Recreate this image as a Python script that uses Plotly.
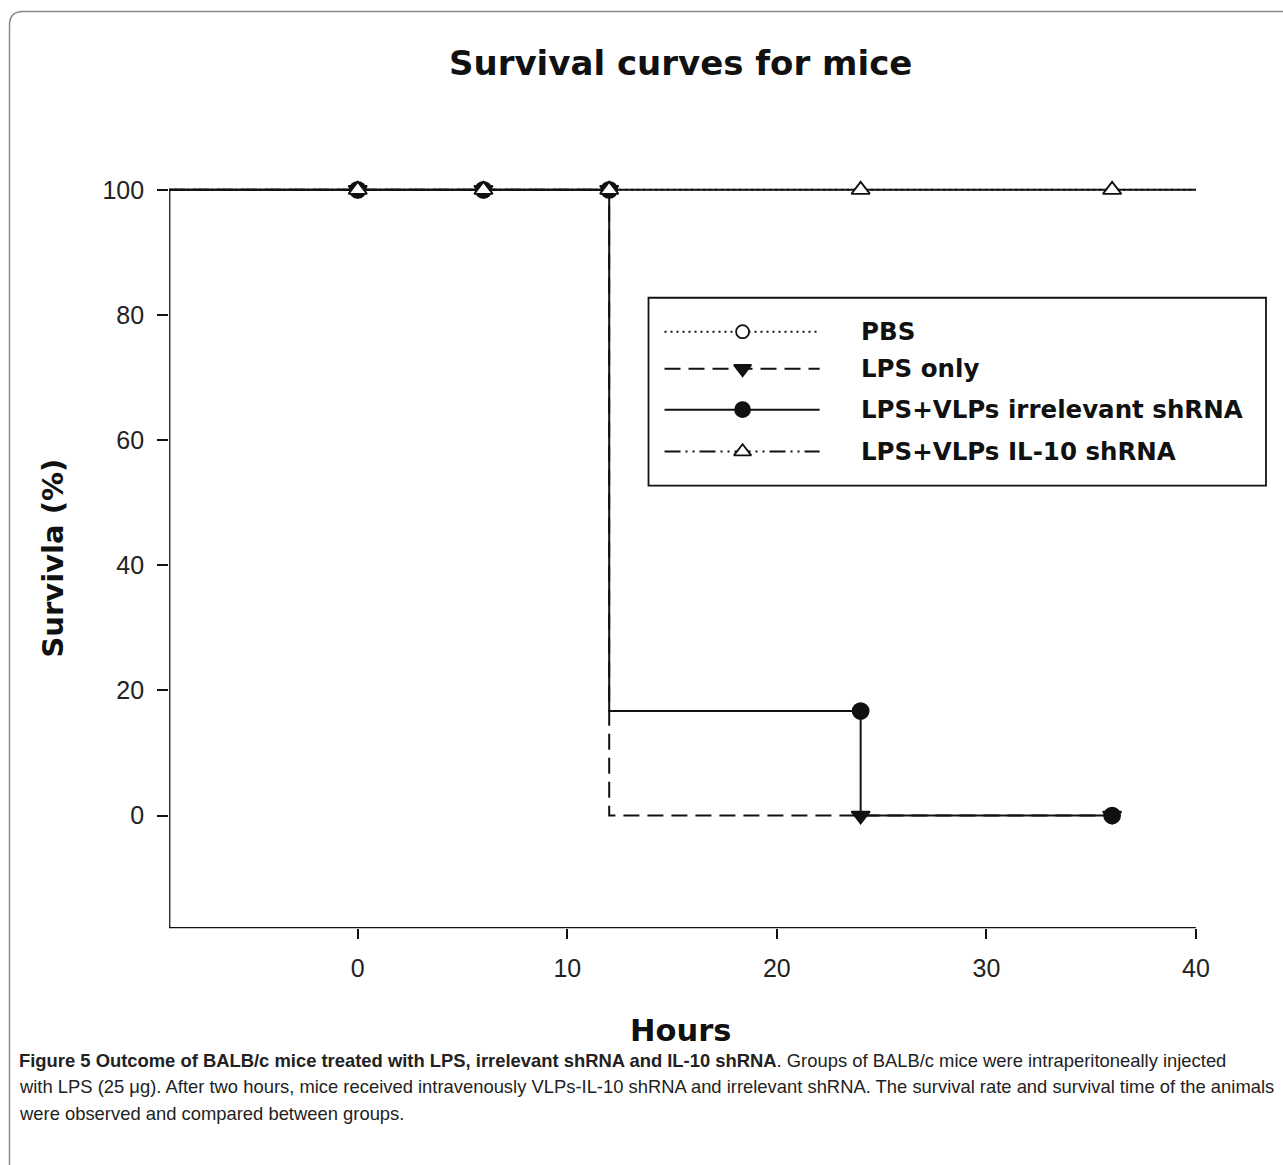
import plotly.graph_objects as go

# ---------------- data ----------------
hours = [0, 6, 12, 24, 36]
pbs_hours = [0, 6, 12]
pbs_survival = [100, 100, 100]
lps_only = [100, 100, 100, 0, 0]
lps_irrelevant = [100, 100, 100, 16.7, 0]
lps_il10 = [100, 100, 100, 100, 100]

group_names = ["PBS", "LPS only", "LPS+VLPs irrelevant shRNA", "LPS+VLPs IL-10 shRNA"]
x_ticks = [0, 10, 20, 30, 40]
y_ticks = [0, 20, 40, 60, 80, 100]
x_range = [-9, 40]
y_min = -18

title_text = "Survival curves for mice"
x_title = "Hours"
y_title = "Survivla (%)"
caption_lines = [
    "<b>Figure 5 Outcome of BALB/c mice treated with LPS, irrelevant shRNA and IL-10 shRNA</b>. Groups of BALB/c mice were intraperitoneally injected",
    "with LPS (25 μg). After two hours, mice received intravenously VLPs-IL-10 shRNA and irrelevant shRNA. The survival rate and survival time of the animals",
    "were observed and compared between groups.",
]

# ---------------- layout constants ----------------
REF_W, H = 1283, 1165   # reference picture size (layout coordinates below are in these pixels)
CANVAS_W = 1298         # drawing width (viewer squeezes horizontally to 1283)
BLACK = "#111111"
DASH_LPS = "16px,8px"
DASH_PBS = "2px,4px"
DASH_IL10 = "16px,5px,2px,5px,2px,5px"


def step_line(xs, ys, extend_right):
    lx = [x_range[0]] + list(xs)
    ly = [ys[0]] + list(ys)
    if extend_right:
        lx.append(x_range[1])
        ly.append(ys[-1])
    return lx, ly


fig = go.Figure()

series = [
    # name, x, y, plotted line dash, symbol, fill, size
    ("PBS", pbs_hours, pbs_survival, DASH_PBS, "circle", "white", 12),
    ("LPS+VLPs irrelevant shRNA", hours, lps_irrelevant, "solid", "circle", BLACK, 16),
    ("LPS only", hours, lps_only, DASH_LPS, "triangle-down", BLACK, 16),
    ("LPS+VLPs IL-10 shRNA", hours, lps_il10, "solid", "triangle-up", "white", 16),
]

for name, xs, ys, dash, sym, fill, size in series:
    lx, ly = step_line(xs, ys, ys[-1] > 0)
    fig.add_trace(go.Scatter(
        x=lx, y=ly, mode="lines", line=dict(color=BLACK, width=2, dash=dash, shape="vh"),
        showlegend=False, hoverinfo="skip", xaxis="x", yaxis="y"))
for name, xs, ys, dash, sym, fill, size in series:
    fig.add_trace(go.Scatter(
        x=xs, y=ys, mode="markers", name=name,
        marker=dict(symbol=sym, size=size, color=fill, line=dict(color=BLACK, width=1.8)),
        showlegend=False, cliponaxis=False, xaxis="x", yaxis="y"))

# ---------------- manual legend (pixel space on overlay axes) ----------------
leg_box = (648, 297, 1265, 485)
leg_rows = [331, 368, 409, 451]
leg_style = {
    "PBS": (DASH_PBS, "circle", "white", 13),
    "LPS only": (DASH_LPS, "triangle-down", BLACK, 15),
    "LPS+VLPs irrelevant shRNA": ("solid", "circle", BLACK, 15),
    "LPS+VLPs IL-10 shRNA": (DASH_IL10, "triangle-up", "white", 15),
}
shapes = []
annotations = []
shapes.append(dict(type="rect", xref="x2", yref="y2", x0=leg_box[0], x1=leg_box[2],
                   y0=leg_box[1], y1=leg_box[3], line=dict(color=BLACK, width=1.8),
                   fillcolor="rgba(0,0,0,0)", layer="above"))
for name, yy in zip(group_names, leg_rows):
    dash, sym, fill, size = leg_style[name]
    fig.add_trace(go.Scatter(x=[664, 819], y=[yy, yy], mode="lines",
                             line=dict(color=BLACK, width=2, dash=dash),
                             showlegend=False, hoverinfo="skip", xaxis="x2", yaxis="y2"))
    fig.add_trace(go.Scatter(x=[742], y=[yy], mode="markers",
                             marker=dict(symbol=sym, size=size, color=fill, line=dict(color=BLACK, width=1.8)),
                             showlegend=False, hoverinfo="skip", xaxis="x2", yaxis="y2"))
    annotations.append(dict(xref="x2", yref="y2", x=858, y=yy, text=name, showarrow=False,
                            xanchor="left", yanchor="middle",
                            font=dict(family="DejaVu Sans", size=24.5, color=BLACK, weight="bold")))

# axis lines
shapes.append(dict(type="line", xref="x", yref="y", x0=x_range[0], x1=x_range[0], y0=y_min, y1=100,
                   line=dict(color=BLACK, width=2.5)))
shapes.append(dict(type="line", xref="x", yref="y", x0=x_range[0], x1=x_range[1], y0=y_min, y1=y_min,
                   line=dict(color=BLACK, width=2.5)))

# outer rounded frame
shapes.append(dict(type="path", xref="x2", yref="y2",
                   path="M 9.5,1175 L 9.5,24 Q 9.5,10.5 23,10.5 L 1300,10.5",
                   line=dict(color="#8a8a8a", width=1.5)))

# titles
annotations.append(dict(xref="x2", yref="y2", x=680, y=62, text=title_text, showarrow=False,
                        xanchor="center", yanchor="middle",
                        font=dict(family="DejaVu Sans", size=34, color=BLACK, weight="bold")))
annotations.append(dict(xref="x2", yref="y2", x=680, y=1030, text=x_title, showarrow=False,
                        xanchor="center", yanchor="middle",
                        font=dict(family="DejaVu Sans", size=30.5, color=BLACK, weight="bold")))
annotations.append(dict(xref="x2", yref="y2", x=52, y=558, text=y_title, showarrow=False,
                        textangle=-90, xanchor="center", yanchor="middle",
                        font=dict(family="DejaVu Sans", size=29, color=BLACK, weight="bold")))
for i, line in enumerate(caption_lines):
    annotations.append(dict(xref="x2", yref="y2", x=17, y=1060 + 26.5 * i, text=line, showarrow=False,
                            xanchor="left", yanchor="middle",
                            font=dict(family="Liberation Sans", size=18.4, color="#222222")))

y_top_px, y_bot_px = 189, 928
px_per_unit = (y_bot_px - y_top_px) / (100 - y_min)
y_max = 100 + 13 / px_per_unit
fig.update_layout(
    width=CANVAS_W, height=H, autosize=False, margin=dict(l=0, r=0, t=0, b=0, pad=0),
    paper_bgcolor="white", plot_bgcolor="rgba(0,0,0,0)",
    showlegend=False,
    xaxis=dict(domain=[169 / REF_W, 1195 / REF_W], range=x_range, tickvals=x_ticks, ticks="outside",
               ticklen=10, tickwidth=2, tickcolor=BLACK, showline=False, showgrid=False, zeroline=False,
               tickfont=dict(family="Liberation Sans", size=25, color="#222222"), anchor="y",
               ticklabelstandoff=8),
    yaxis=dict(domain=[1 - y_bot_px / H, 1 - (y_top_px - 13) / H], range=[y_min, y_max], tickvals=y_ticks,
               ticks="outside", ticklen=11, tickwidth=2, tickcolor=BLACK, showline=False, showgrid=False,
               zeroline=False, tickfont=dict(family="Liberation Sans", size=25, color="#222222"),
               anchor="x", ticklabelstandoff=8),
    xaxis2=dict(domain=[0, 1], range=[0, REF_W], visible=False, anchor="y2", fixedrange=True),
    yaxis2=dict(domain=[0, 1], range=[H, 0], visible=False, anchor="x2", fixedrange=True),
    shapes=shapes, annotations=annotations,
)

fig.write_html("out.html", config={"displayModeBar": False, "responsive": False},
               post_script="document.body.style.margin='0';document.body.style.overflow='hidden';")
